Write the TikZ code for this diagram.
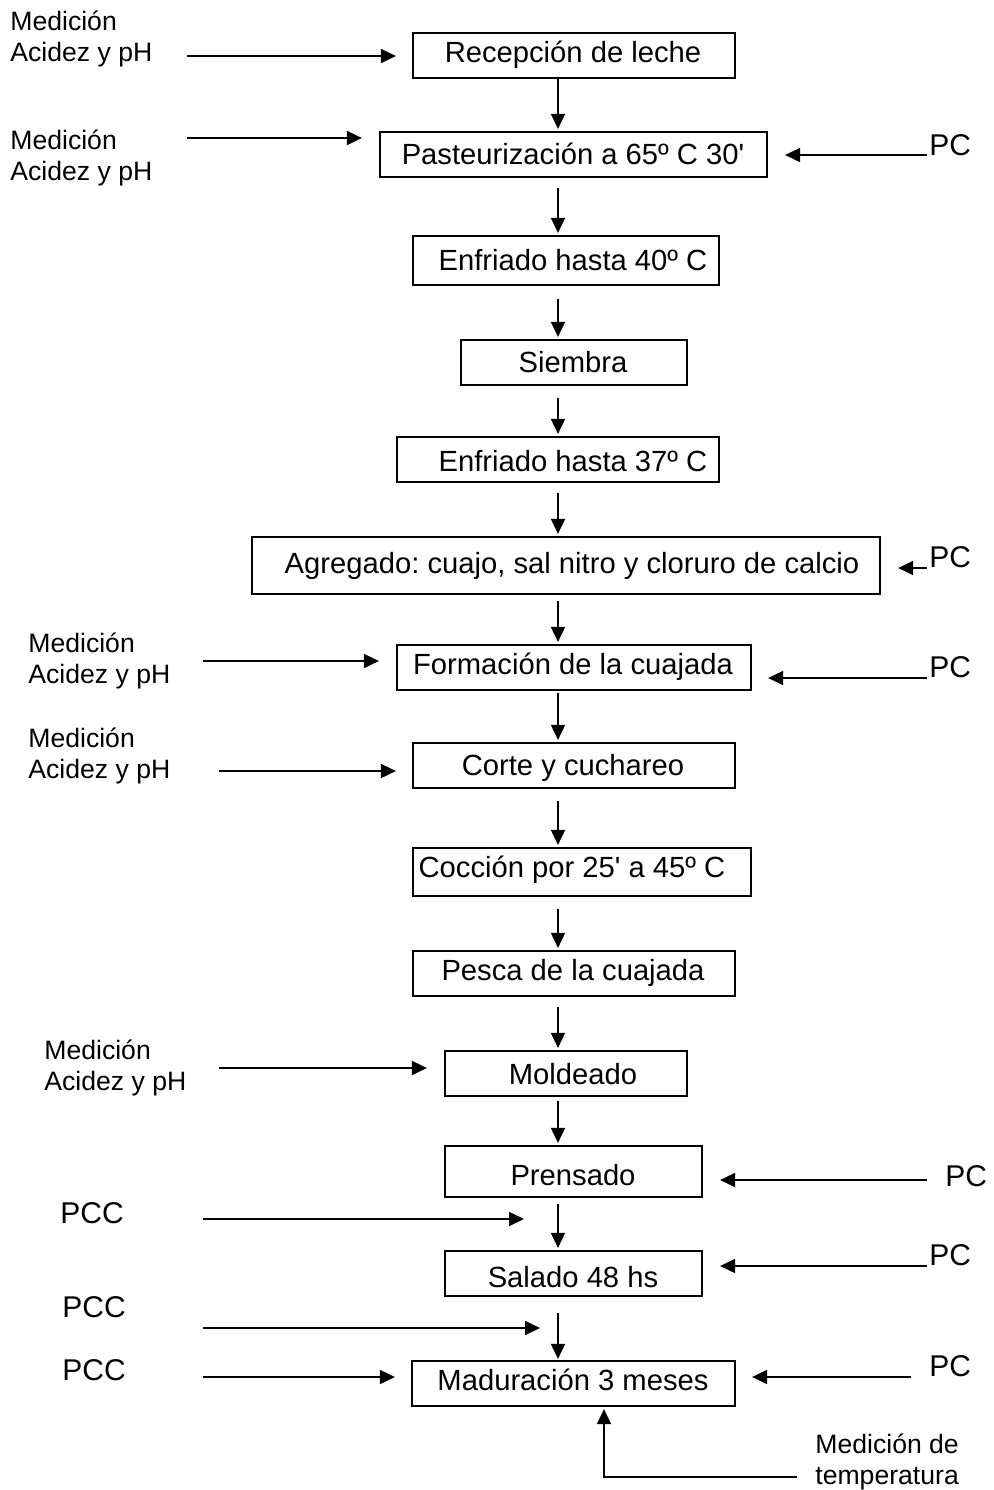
\documentclass[tikz,border=0pt]{standalone}
\usepackage{fontspec}
\setmainfont{Liberation Sans}
\usetikzlibrary{arrows.meta,fit}
\frenchspacing
\begin{document}
\begin{tikzpicture}[x=0.5pt,y=-0.5pt,
  box/.style={draw,line width=1.1pt,inner sep=0pt,rectangle},
  steptxt/.style={inner sep=0pt,font=\fontsize{14.6}{17}\selectfont},
  note/.style={inner sep=0pt,align=left,anchor=west,font=\fontsize{13.3}{15.5}\selectfont},
  pc/.style={inner sep=0pt,anchor=base west,font=\fontsize{15}{18}\selectfont},
  arr/.style={line width=0.9pt,-{Triangle[length=7.5pt,width=7pt]}}]
\useasboundingbox (0,0) rectangle (994,1490);

% process steps
\node[box,fit={(413,33) (735,78)}] (b1) {};
\node[steptxt] (t1) at (573,55) {Recepción de leche};
\node[box,fit={(380,132) (767,177)}] (b2) {};
\node[steptxt] (t2) at (573,154) {Pasteurización a 65º C 30\textquotesingle};
\node[box,fit={(413,236) (719,285)}] (b3) {};
\node[steptxt] (t3) at (573,260) {Enfriado hasta 40º C};
\node[box,fit={(461,340) (687,385)}] (b4) {};
\node[steptxt] (t4) at (573,362) {Siembra};
\node[box,fit={(397,437) (719,482)}] (b5) {};
\node[steptxt] (t5) at (573,461) {Enfriado hasta 37º C};
\node[box,fit={(252,537) (880,594)}] (b6) {};
\node[steptxt] (t6) at (572,566) {Agregado: cuajo, sal nitro y cloruro de calcio};
\node[box,fit={(397,645) (751,690)}] (b7) {};
\node[steptxt] (t7) at (573,667) {Formación de la cuajada};
\node[box,fit={(413,743) (735,788)}] (b8) {};
\node[steptxt] (t8) at (573,768) {Corte y cuchareo};
\node[box,fit={(413,848) (751,896)}] (b9) {};
\node[steptxt] (t9) at (572,870) {Cocción por 25\textquotesingle{} a 45º C};
\node[box,fit={(413,951) (735,996)}] (b10) {};
\node[steptxt] (t10) at (573,973) {Pesca de la cuajada};
\node[box,fit={(445,1051) (687,1096)}] (b11) {};
\node[steptxt] (t11) at (573,1074) {Moldeado};
\node[box,fit={(445,1146) (702,1197)}] (b12) {};
\node[steptxt] (t12) at (573,1175) {Prensado};
\node[box,fit={(445,1251) (702,1296)}] (b13) {};
\node[steptxt] (t13) at (573,1277) {Salado 48 hs};
\node[box,fit={(412,1361) (735,1406)}] (b14) {};
\node[steptxt] (t14) at (573,1380) {Maduración 3 meses};

% main flow
\coordinate (spine) at (558,0);
\draw[arr,shorten >=1pt] (b1.south -| spine) -- (b2.north -| spine);
\draw[arr,shorten <=5pt,shorten >=1pt] (b2.south -| spine) -- (b3.north -| spine);
\draw[arr,shorten <=6.5pt,shorten >=1pt] (b3.south -| spine) -- (b4.north -| spine);
\draw[arr,shorten <=6pt,shorten >=1pt] (b4.south -| spine) -- (b5.north -| spine);
\draw[arr,shorten <=5pt,shorten >=1pt] (b5.south -| spine) -- (b6.north -| spine);
\draw[arr,shorten <=3pt,shorten >=1pt] (b6.south -| spine) -- (b7.north -| spine);
\draw[arr,shorten <=1pt,shorten >=1pt] (b7.south -| spine) -- (b8.north -| spine);
\draw[arr,shorten <=6pt,shorten >=1pt] (b8.south -| spine) -- (b9.north -| spine);
\draw[arr,shorten <=6pt,shorten >=1pt] (b9.south -| spine) -- (b10.north -| spine);
\draw[arr,shorten <=5pt,shorten >=1pt] (b10.south -| spine) -- (b11.north -| spine);
\draw[arr,shorten <=2pt,shorten >=1pt] (b11.south -| spine) -- (b12.north -| spine);
\draw[arr,shorten <=3pt,shorten >=1pt] (b12.south -| spine) -- (b13.north -| spine);
\draw[arr,shorten <=8pt,shorten >=0.5pt] (b13.south -| spine) -- (b14.north -| spine);

% measurements of acidity and pH
\node[note] (m1) at (10,39) {Medición\\Acidez y pH};
\coordinate (m1s) at (187,56);
\draw[arr,shorten >=8pt] (m1s) -- (m1s -| b1.west);
\node[note] (m2) at (10,158) {Medición\\Acidez y pH};
\coordinate (m2s) at (187,138);
\draw[arr,shorten >=8.5pt] (m2s) -- (m2s -| b2.west);
\node[note] (m3) at (28,661) {Medición\\Acidez y pH};
\coordinate (m3s) at (203,661);
\draw[arr,shorten >=8.5pt] (m3s) -- (m3s -| b7.west);
\node[note] (m4) at (28,756) {Medición\\Acidez y pH};
\coordinate (m4s) at (219,771);
\draw[arr,shorten >=8pt] (m4s) -- (m4s -| b8.west);
\node[note] (m5) at (44,1068) {Medición\\Acidez y pH};
\coordinate (m5s) at (219,1068);
\draw[arr,shorten >=8.5pt] (m5s) -- (m5s -| b11.west);

% critical control points
\node[pc] (pcc1) at (60,1223) {PCC};
\coordinate (pcc1s) at (203,1219);
\draw[arr,shorten >=17pt] (pcc1s) -- (pcc1s -| spine);
\node[pc] (pcc2) at (62,1317) {PCC};
\coordinate (pcc2s) at (203,1328);
\draw[arr,shorten >=9pt] (pcc2s) -- (pcc2s -| spine);
\node[pc] (pcc3) at (62,1380) {PCC};
\coordinate (pcc3s) at (203,1377);
\draw[arr,shorten >=8pt] (pcc3s) -- (pcc3s -| b14.west);

% control points
\node[pc] (pc1) at (929,155) {PC};
\coordinate (pc1s) at (927,155);
\draw[arr,shorten >=8.5pt] (pc1s) -- (pc1s -| b2.east);
\node[pc] (pc2) at (929,567) {PC};
\coordinate (pc2s) at (927,568);
\draw[arr,shorten >=8.5pt] (pc2s) -- (pc2s -| b6.east);
\node[pc] (pc3) at (929,677) {PC};
\coordinate (pc3s) at (927,678);
\draw[arr,shorten >=8pt] (pc3s) -- (pc3s -| b7.east);
\node[pc] (pc4) at (945,1186) {PC};
\coordinate (pc4s) at (927,1180);
\draw[arr,shorten >=8.5pt] (pc4s) -- (pc4s -| b12.east);
\node[pc] (pc5) at (929,1265) {PC};
\coordinate (pc5s) at (927,1266);
\draw[arr,shorten >=8.5pt] (pc5s) -- (pc5s -| b13.east);
\node[pc] (pc6) at (929,1376) {PC};
\coordinate (pc6s) at (911,1377);
\draw[arr,shorten >=8pt] (pc6s) -- (pc6s -| b14.east);

% temperature measurement
\node[note] (temp) at (815,1462) {Medición de\\temperatura};
\coordinate (temps) at (797,1477);
\draw[arr,shorten >=1pt] (temps) -| ([xshift=15.25pt]b14.south);
\end{tikzpicture}
\end{document}
